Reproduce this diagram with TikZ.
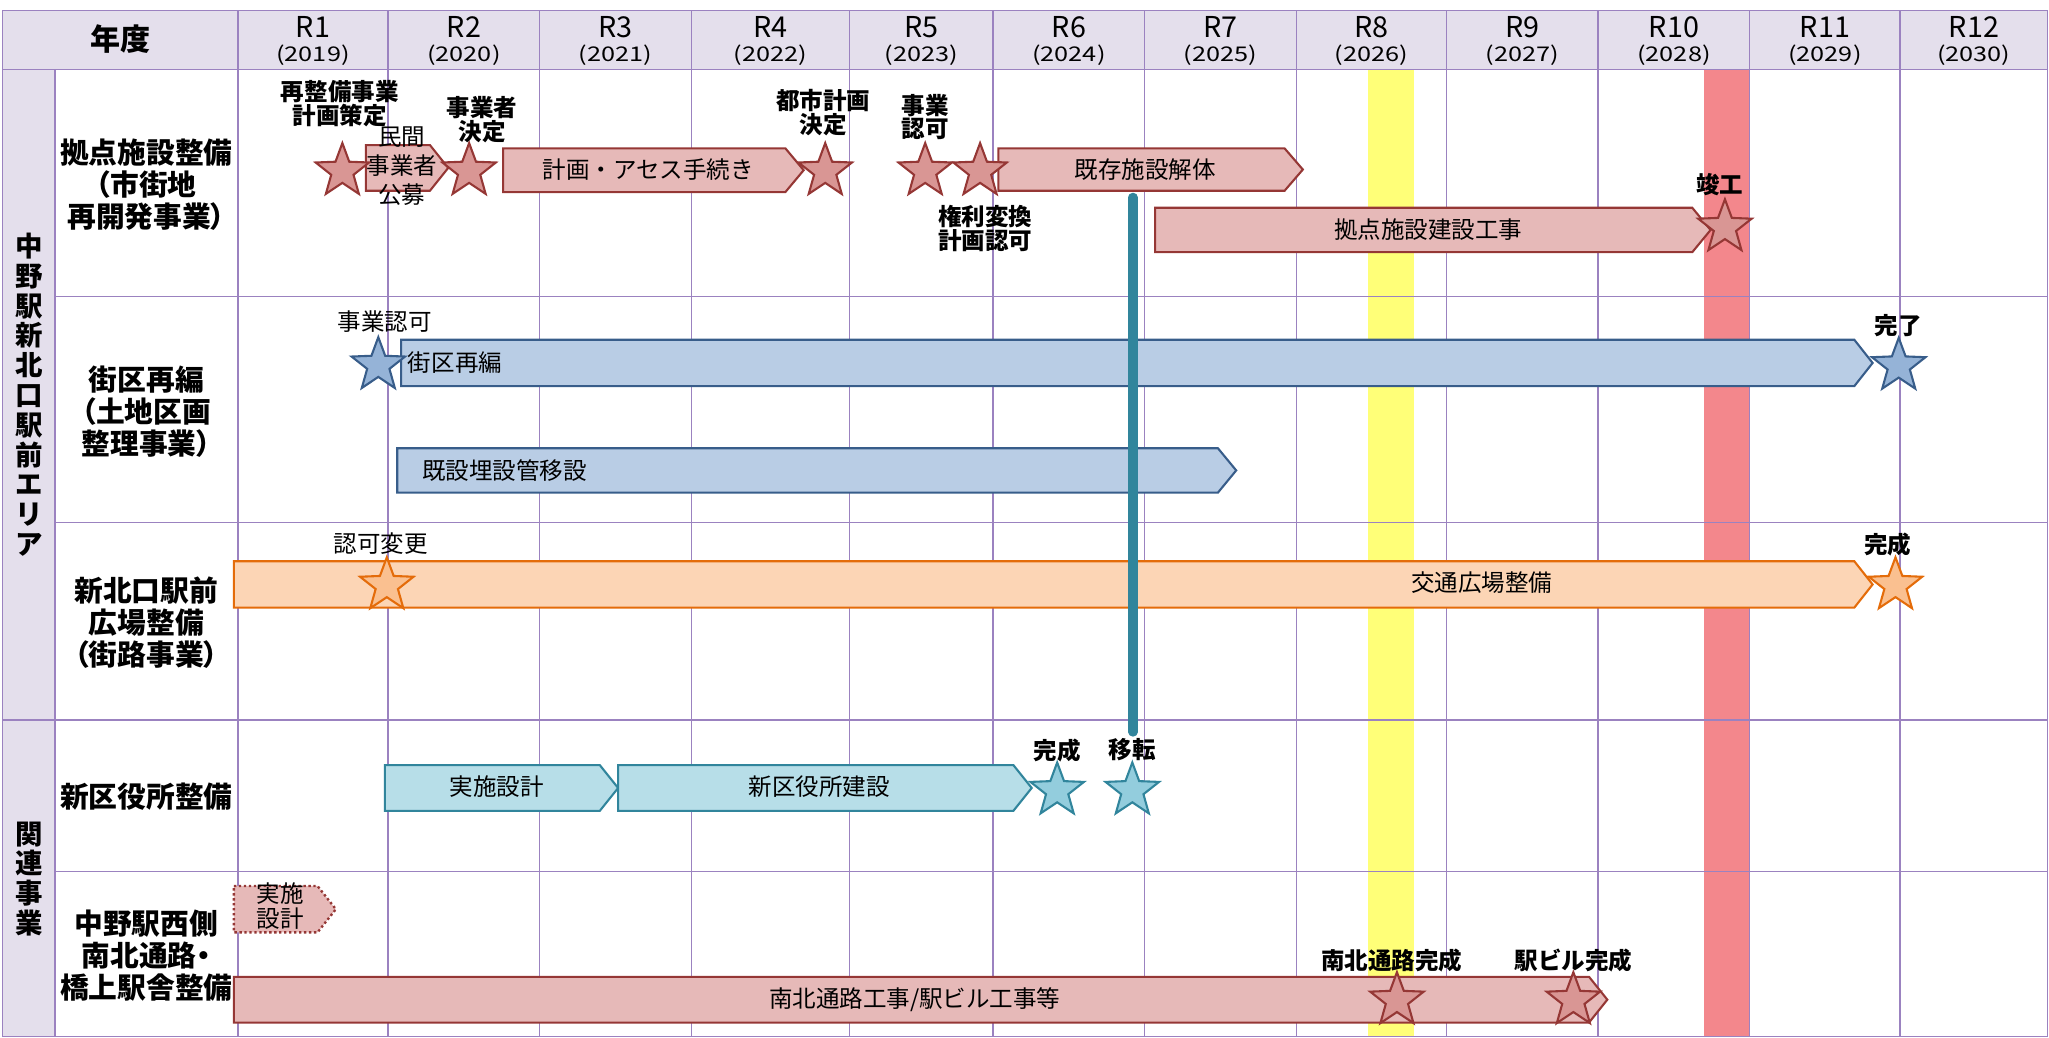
\documentclass[tikz,border=0pt]{standalone}
\usepackage{fontspec}
\setmainfont{Noto Sans CJK JP}
\newfontfamily\pfont{Noto Sans CJK JP}[RawFeature=+palt]
\newfontfamily\yfont{Noto Sans CJK JP}[FakeStretch=1.25]
\usetikzlibrary{shapes.geometric}
\newcommand{\myfs}[2]{\fontsize{#1}{#2}\selectfont}
\newcommand{\arrbar}[5]{\draw[#1] (#2,#4) -- ({#3-14},#4) -- (#3,{(#4+#5)/2}) -- ({#3-14},#5) -- (#2,#5) -- cycle;}
\definecolor{cGrid}{RGB}{155,130,192}
\definecolor{cHdr}{RGB}{228,223,236}
\definecolor{cRedF}{RGB}{230,185,184}
\definecolor{cRedL}{RGB}{149,55,53}
\definecolor{cRedS}{RGB}{217,150,148}
\definecolor{cBluF}{RGB}{185,205,229}
\definecolor{cBluL}{RGB}{56,93,138}
\definecolor{cBluS}{RGB}{149,179,215}
\definecolor{cOrF}{RGB}{252,213,181}
\definecolor{cOrL}{RGB}{228,108,10}
\definecolor{cOrS}{RGB}{250,192,144}
\definecolor{cTeF}{RGB}{183,222,232}
\definecolor{cTeL}{RGB}{49,133,156}
\definecolor{cTeS}{RGB}{147,205,221}
\definecolor{cBandY}{RGB}{255,255,120}
\definecolor{cBandR}{RGB}{243,135,140}
\tikzset{
 gridl/.style={draw=cGrid, line width=1.1},
 redbar/.style={fill=cRedF, draw=cRedL, line width=1.6, line join=miter},
 bluebar/.style={fill=cBluF, draw=cBluL, line width=1.6},
 orbar/.style={fill=cOrF, draw=cOrL, line width=1.6},
 tealbar/.style={fill=cTeF, draw=cTeL, line width=1.6},
 dotbar/.style={fill=cRedF, draw=cRedL, line width=1.8, dotted},
 mstar/.style={star, star points=5, star point ratio=2.4, minimum size=43, inner sep=0, line width=1.6},
 rstar/.style={mstar, fill=cRedS, draw=cRedL},
 bstar/.style={mstar, fill=cBluS, draw=cBluL},
 ostar/.style={mstar, fill=cOrS, draw=cOrL},
 tstar/.style={mstar, fill=cTeS, draw=cTeL},
 btxt/.style={font=\myfs{18}{22}, inner sep=0, align=center},
 ann/.style={font=\bfseries\myfs{18}{17}, inner sep=0, align=center},
 nann/.style={font=\myfs{18}{18}, inner sep=0},
 rowlbl/.style={font=\pfont\bfseries\myfs{22}{24.5}, inner sep=0, align=center},
 catlbl/.style={font=\bfseries\myfs{21}{22.8}, inner sep=0, align=center},
 hdrR/.style={font=\myfs{22}{22}, inner sep=0},
 hdrY/.style={font=\yfont\myfs{15.5}{15.5}, inner sep=0},
 vline/.style={draw=cTeL, line width=7, line cap=round},
}
\begin{document}
\begin{tikzpicture}[x=1pt,y=-1pt]
\useasboundingbox (0,0) rectangle (1568,794);
% backgrounds
\fill[cHdr] (2,8) rectangle (1567,53);
\fill[cHdr] (2,53) rectangle (42,793);
% highlight bands
\fill[cBandY] (1047,53) rectangle (1082,793);
\fill[cBandR] (1304,53) rectangle (1339,793);
% grid
\draw[gridl] (2,8) rectangle (1567,793);
\draw[gridl] (2,53) -- (1567,53);
\draw[gridl] (42,53) -- (42,793);
\foreach \x in {182,297,413,529,650,760,876,992,1107,1223,1339,1454}
  \draw[gridl] (\x,8) -- (\x,793);
\draw[gridl] (42,227) -- (1567,227);
\draw[gridl] (42,400) -- (1567,400);
\draw[gridl] (2,551) -- (1567,551);
\draw[gridl] (42,667) -- (1567,667);
% header
\node[font=\bfseries\myfs{23}{23}, inner sep=0] (hyr) at (92,30) {年度};
\foreach \i/\c/\y in {1/239.5/2019, 2/355/2020, 3/471/2021, 4/589.5/2022, 5/705/2023, 6/818/2024, 7/934/2025, 8/1049.5/2026, 9/1165/2027, 10/1281/2028, 11/1396.5/2029, 12/1510.5/2030}
 {\node[hdrR] (hR\i) at (\c,20.5) {R\i};
  \node[hdrY] (hY\i) at (\c,42.5) {(\y)};}
% category labels
\node[catlbl] (cat1) at (22,302) {中\\野\\駅\\新\\北\\口\\駅\\前\\エ\\リ\\ア};
\node[catlbl] (cat2) at (22,672.5) {関\\連\\事\\業};
% row labels
\node[rowlbl] (row1) at (112,141) {拠点施設整備\\（市街地\\再開発事業）};
\node[rowlbl] (row2) at (112,315) {街区再編\\（土地区画\\整理事業）};
\node[rowlbl] (row3) at (112,476.5) {新北口駅前\\広場整備\\（街路事業）};
\node[rowlbl] (row4) at (112,609.5) {新区役所整備};
\node[rowlbl] (row5) at (112,731.5) {中野駅西側\\南北通路・\\橋上駅舎整備};
% bars
\arrbar{redbar}{280}{343}{111}{146}
\arrbar{redbar}{385}{615}{113.5}{147}
\arrbar{redbar}{764}{997}{113.5}{146}
\arrbar{redbar}{884}{1309}{159}{193}
\arrbar{bluebar}{307}{1433}{260}{295.5}
\arrbar{bluebar}{304}{946}{343}{377}
\arrbar{orbar}{179}{1433}{429.5}{465}
\arrbar{tealbar}{294.5}{473}{585.5}{620.5}
\arrbar{tealbar}{473}{789.5}{585.5}{620.5}
\arrbar{dotbar}{179}{257}{678}{713.5}
\arrbar{redbar}{179}{1230}{747.5}{782.5}
% bar texts
\node[btxt] (tMinkan) at (307.5,127) {民間\\事業者\\公募};
\node[btxt] (tAsses) at (496,130) {計画・アセス手続き};
\node[btxt] (tKaitai) at (876.5,129.5) {既存施設解体};
\node[btxt] (tKenset) at (1093,176) {拠点施設建設工事};
\node[btxt, anchor=west] (tGaiku) at (312,277.5) {街区再編};
\node[btxt, anchor=west] (tKikan) at (323,360) {既設埋設管移設};
\node[btxt] (tKotsu) at (1134,446) {交通広場整備};
\node[btxt] (tJisshi) at (380,602) {実施設計};
\node[btxt] (tKuyaku) at (627,602) {新区役所建設};
\node[btxt, font=\myfs{18}{19}] (tJisshi2) at (214.5,693.5) {実施\\設計};
\node[btxt] (tNanboku) at (700,765) {南北通路工事/駅ビル工事等};
% stars
\node[rstar] (sA) at (262,131) {};
\node[rstar] (sB) at (359,131) {};
\node[rstar] (sC) at (631.5,131) {};
\node[rstar] (sD) at (708,131) {};
\node[rstar] (sE) at (750,131) {};
\node[rstar] (sF) at (1320,174) {};
\node[bstar] (sG) at (289.5,279.5) {};
\node[bstar] (sH) at (1453,280) {};
\node[ostar] (sI) at (296,448) {};
\node[ostar] (sJ) at (1450.5,448) {};
\node[tstar] (sK) at (809,605) {};
\node[tstar] (sL) at (866.5,605) {};
\node[rstar] (sM) at (1069,765.5) {};
\node[rstar] (sN) at (1204,765.5) {};
% annotations
\node[ann] (aSaiseibi) at (260,79) {再整備事業\\計画策定};
\node[ann] (aKettei) at (369,91.5) {事業者\\決定};
\node[ann] (aToshi) at (630,86) {都市計画\\決定};
\node[ann] (aNinka) at (708,89.5) {事業\\認可};
\node[ann] (aKenri) at (754,175) {権利変換\\計画認可};
\node[ann] (aShunko) at (1316,141) {竣工};
\node[ann] (aKanryo) at (1452.5,249) {完了};
\node[ann] (aKansei1) at (1444.5,417) {完成};
\node[ann] (aKansei2) at (809,574) {完成};
\node[ann] (aIten) at (866.5,574) {移転};
\node[ann] (aNanboku) at (1065,735) {南北通路完成};
\node[ann] (aEki) at (1204,735) {駅ビル完成};
\node[nann] (aJigyo) at (294.5,246) {事業認可};
\node[nann] (aHenko) at (291.5,416) {認可変更};
% relocation link
\coordinate (vtop) at (867,151);
\draw[vline] (vtop) -- ([yshift=5pt]aIten.north -| vtop);
\end{tikzpicture}
\end{document}
